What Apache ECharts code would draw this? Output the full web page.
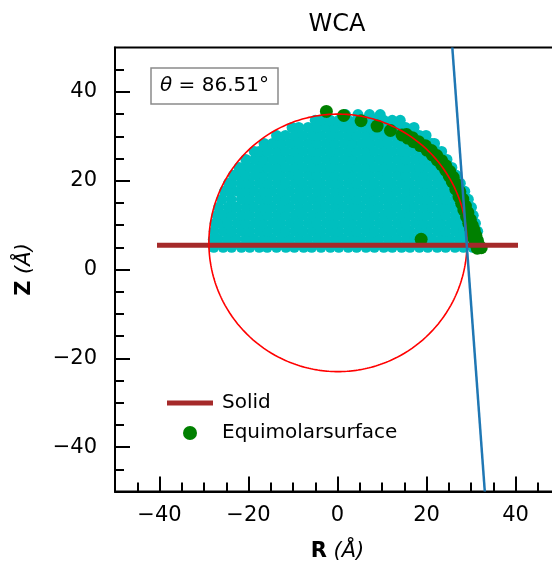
<!DOCTYPE html>
<html>
<head>
<meta charset="utf-8">
<script src="https://cdn.jsdelivr.net/npm/echarts@6/dist/echarts.min.js"></script>
<style>
  html, body { margin: 0; padding: 0; background: #fff; }
  #chart { width: 552px; height: 566px; }
</style>
</head>
<body>
<div id="chart"></div>
<script>
// Axis limits and ticks (Å)
const rLimits = [-50, 50];
const zLimits = [-50, 50];
const majorTicks = [-40, -20, 0, 20, 40];
const minorTicks = [-45, -35, -30, -25, -15, -10, -5, 5, 10, 15, 25, 30, 35, 45];

// Water density cloud: one list of R positions per Z layer
const cloudRowZ = [5.0, 6.8, 8.6, 10.4, 12.2, 14.0, 15.8, 17.6, 19.4, 21.2, 23.0, 24.8, 26.6, 28.4, 30.2, 32.0, 33.6, 34.9];
const cloudRowR = [
  [-27.8,-25.7,-23.8,-21.6,-19.7,-17.6,-15.8,-13.7,-11.6,-9.7,-7.6,-5.8,-3.7,-1.6,0.3,2.4,4.3,6.4,8.3,10.4,12.3,14.4,16.3,18.4,20.3,22.4,24.3,26.4,28.3,30.4,32.2],
  [-27.9,-26.8,-24.7,-22.8,-20.6,-18.7,-16.6,-14.7,-12.6,-10.7,-8.6,-6.7,-4.6,-2.7,-0.6,1.3,3.4,5.3,7.4,9.3,11.4,13.3,15.4,17.3,19.4,21.3,23.4,25.3,27.4,29.3,31.4],
  [-27.7,-25.6,-23.7,-21.6,-19.7,-17.6,-15.7,-13.6,-11.7,-9.6,-7.7,-5.6,-3.7,-1.6,0.3,2.4,4.3,6.4,8.3,10.4,12.3,14.4,16.3,18.4,20.3,22.4,24.3,26.4,28.3,30.2,31.5],
  [-27.5,-26.6,-24.7,-22.6,-20.7,-18.6,-16.7,-14.6,-12.7,-10.6,-8.7,-6.6,-4.7,-2.6,-0.7,1.4,3.3,5.4,7.3,9.4,11.3,13.4,15.3,17.4,19.3,21.4,23.3,25.4,27.3,29.4,31.0],
  [-27.1,-25.6,-23.7,-21.6,-19.7,-17.6,-15.7,-13.6,-11.7,-9.6,-7.7,-5.6,-3.7,-1.6,0.3,2.4,4.3,6.4,8.3,10.4,12.3,14.4,16.3,18.4,20.3,22.4,24.3,26.4,28.3,30.5],
  [-26.7,-24.6,-22.7,-20.6,-18.7,-16.6,-14.7,-12.6,-10.7,-8.6,-6.7,-4.6,-2.7,-0.6,1.3,3.4,5.3,7.4,9.3,11.4,13.3,15.4,17.3,19.4,21.3,23.4,25.3,27.4,29.3,30.1],
  [-26.0,-23.9,-21.6,-19.7,-17.6,-15.7,-13.6,-11.7,-9.6,-7.7,-5.6,-3.7,-1.6,0.3,2.4,4.3,6.4,8.3,10.4,12.3,14.4,16.3,18.4,20.3,22.4,24.3,26.4,28.3,29.4],
  [-25.4,-24.0,-22.3,-20.6,-18.7,-16.6,-14.7,-12.6,-10.7,-8.6,-6.7,-4.6,-2.7,-0.6,1.3,3.4,5.3,7.4,9.3,11.4,13.3,15.4,17.3,19.4,21.3,23.4,25.3,27.4,28.6],
  [-24.5,-23.7,-21.6,-19.7,-17.6,-15.7,-13.6,-11.7,-9.6,-7.7,-5.6,-3.7,-1.6,0.3,2.4,4.3,6.4,8.3,10.4,12.3,14.4,16.3,18.4,20.3,22.4,24.3,26.4,27.6],
  [-23.4,-22.6,-20.7,-18.6,-16.7,-14.6,-12.7,-10.6,-8.7,-6.6,-4.7,-2.6,-0.7,1.4,3.3,5.4,7.3,9.4,11.3,13.4,15.3,17.4,19.3,21.4,23.3,25.4,26.7],
  [-22.1,-21.0,-19.7,-17.6,-15.7,-13.6,-11.7,-9.6,-7.7,-5.6,-3.7,-1.6,0.3,2.4,4.3,6.4,8.3,10.4,12.3,14.4,16.3,18.4,20.3,22.4,24.3,25.7],
  [-20.6,-18.6,-16.7,-14.6,-12.7,-10.6,-8.7,-6.6,-4.7,-2.6,-0.7,1.4,3.3,5.4,7.3,9.4,11.3,13.4,15.3,17.4,19.3,21.4,23.3,24.6],
  [-18.7,-17.6,-15.7,-13.6,-11.7,-9.6,-7.7,-5.6,-3.7,-1.6,0.3,2.4,4.3,6.4,8.3,10.4,12.3,14.4,16.3,18.4,20.3,22.4,23.4],
  [-16.5,-14.6,-12.7,-10.6,-8.7,-6.6,-4.7,-2.6,-0.7,1.4,3.3,5.4,7.3,9.4,11.3,13.4,15.3,17.4,19.3,21.2,21.8],
  [-13.7,-11.7,-9.6,-7.7,-5.6,-3.7,-1.6,0.3,2.4,4.3,6.4,8.3,10.4,12.3,14.4,16.3,18.4,19.9],
  [-10.2,-8.7,-6.6,-4.7,-2.6,-0.7,1.4,3.3,5.4,7.3,9.4,11.3,13.4,15.3,17.2],
  [-5.0,-3.7,-1.6,0.3,2.4,4.3,6.4,8.3,10.4,12.3,14.1],
  [1.8,4.6,7.2,9.6]
];

// Equimolar dividing surface points
const equimolarR = [-2.5, 1.4, 5.3, 8.9, 11.9,
  14.5, 15.8, 17.1, 18.6, 20.1, 21.3, 22.4, 23.4, 24.3, 25.1, 25.8, 26.6, 27.3, 27.9, 28.4, 29.0, 29.5, 29.9, 30.3, 30.7, 31.0, 31.4,
  15.5, 16.8, 18.2, 19.75, 21.1, 22.3, 23.4, 24.35, 25.2, 26.0, 26.75, 27.5, 28.15, 28.75, 29.3, 29.85, 30.3, 30.7, 31.1, 31.45, 31.8,
  32.3, 18.8];
const equimolarZ = [35.6, 34.7, 33.5, 32.3, 31.3,
  30.3, 29.6, 28.8, 27.9, 26.9, 25.8, 24.7, 23.6, 22.4, 21.1, 19.8, 18.1, 16.4, 14.9, 13.4, 11.9, 10.4, 9.3, 8.2, 7.0, 5.9, 4.8,
  30.4, 29.7, 28.8, 27.85, 26.8, 25.65, 24.5, 23.35, 22.1, 20.75, 19.2, 17.5, 15.85, 14.3, 12.8, 11.25, 9.9, 8.8, 7.65, 6.5, 5.35,
  4.9, 6.8];

// Solid surface, fitted circle and tangent at the contact line
const solidR = [-40, 40];
const solidZ = 5.45;
const circleCenter = [0.1, 6.0];
const circleRadius = 29.0;
const tangentR = [25.8, 33.1];
const tangentZ = [50, -50];
const contactAngle = '86.51';

const FONT = 'DejaVu Sans';
const minus = v => String(v).replace('-', '\u2212');

const cloudData = [];
cloudRowZ.forEach((z, i) => cloudRowR[i].forEach(r => cloudData.push([r, z])));
const equimolarData = equimolarR.map((r, i) => [r, equimolarZ[i]]);
const circleData = [];
for (let a = 0; a <= 360; a += 1) {
  const t = a * Math.PI / 180;
  circleData.push([circleCenter[0] + circleRadius * Math.cos(t), circleCenter[1] + circleRadius * Math.sin(t)]);
}

const chart = echarts.init(document.getElementById('chart'), null, { renderer: 'canvas' });

const axisCommon = {
  type: 'value',
  splitLine: { show: false },
};

chart.setOption({
  animation: false,
  backgroundColor: '#fff',
  textStyle: { fontFamily: FONT },
  title: [
    {
      text: 'WCA',
      left: 337, top: 13, textAlign: 'center', padding: 0,
      textStyle: { fontFamily: FONT, fontSize: 24, fontWeight: 'normal', color: '#000' }
    },
    {
      text: '{i|θ} = ' + contactAngle + '°',
      left: 151, top: 68, padding: [7, 9, 7, 9],
      borderColor: '#8a8a8a', borderWidth: 1.5, backgroundColor: '#fff',
      textStyle: {
        fontFamily: FONT, fontSize: 20, fontWeight: 'normal', color: '#000', lineHeight: 22,
        rich: { i: { fontFamily: FONT, fontSize: 20, fontStyle: 'italic', color: '#000', lineHeight: 22 } }
      }
    }
  ],
  legend: {
    orient: 'vertical',
    left: 162, top: 388,
    itemWidth: 46, itemHeight: 14, itemGap: 10,
    selectedMode: false,
    textStyle: { fontFamily: FONT, fontSize: 20, color: '#000', lineHeight: 20, padding: [0, 0, 0, 4] },
    data: [
      { name: 'Solid', icon: 'path://M0,0 L46,0 L46,5 L0,5 Z', itemStyle: { color: '#a52a2a', opacity: 1 } },
      { name: 'Equimolarsurface', icon: 'circle', itemStyle: { color: '#008000', opacity: 1 } }
    ]
  },
  grid: {
    left: 115, top: 47.5, width: 445, height: 444,
    outerBoundsMode: 'none', containLabel: false,
    show: true, borderColor: '#000', borderWidth: 2, backgroundColor: 'transparent'
  },
  xAxis: [
    Object.assign({}, axisCommon, {
      min: rLimits[0], max: rLimits[1], position: 'bottom',
      axisLine: { show: true, onZero: false, lineStyle: { color: '#000', width: 2 } },
      axisTick: { show: true, inside: true, length: 15, customValues: majorTicks, lineStyle: { color: '#000', width: 2 } },
      axisLabel: { show: true, customValues: majorTicks, margin: 14, fontFamily: FONT, fontSize: 21, color: '#000', formatter: minus },
      name: '{b|R} {i|(Å)}',
      nameLocation: 'middle', nameGap: 50,
      nameTextStyle: {
        fontFamily: FONT, fontSize: 21, color: '#000',
        rich: {
          b: { fontFamily: FONT, fontSize: 21, fontWeight: 'bold', color: '#000' },
          i: { fontFamily: FONT, fontSize: 21, fontStyle: 'italic', color: '#000' }
        }
      }
    }),
    Object.assign({}, axisCommon, {
      min: rLimits[0], max: rLimits[1], position: 'bottom', gridIndex: 0,
      axisLine: { show: false, onZero: false },
      axisTick: { show: true, inside: true, length: 9, customValues: minorTicks, lineStyle: { color: '#000', width: 2 } },
      axisLabel: { show: false }
    })
  ],
  yAxis: [
    Object.assign({}, axisCommon, {
      min: zLimits[0], max: zLimits[1], position: 'left',
      axisLine: { show: true, onZero: false, lineStyle: { color: '#000', width: 2 } },
      axisTick: { show: true, inside: true, length: 15, customValues: majorTicks, lineStyle: { color: '#000', width: 2 } },
      axisLabel: { show: true, customValues: majorTicks, margin: 18, fontFamily: FONT, fontSize: 21, color: '#000', formatter: minus },
      name: '{b|Z} {i|(Å)}',
      nameLocation: 'middle', nameGap: 80,
      nameTextStyle: {
        fontFamily: FONT, fontSize: 21, color: '#000',
        rich: {
          b: { fontFamily: FONT, fontSize: 21, fontWeight: 'bold', color: '#000' },
          i: { fontFamily: FONT, fontSize: 21, fontStyle: 'italic', color: '#000' }
        }
      }
    }),
    Object.assign({}, axisCommon, {
      min: zLimits[0], max: zLimits[1], position: 'left', gridIndex: 0,
      axisLine: { show: false, onZero: false },
      axisTick: { show: true, inside: true, length: 9, customValues: minorTicks, lineStyle: { color: '#000', width: 2 } },
      axisLabel: { show: false }
    })
  ],
  series: [
    {
      name: 'Water',
      type: 'scatter',
      symbol: 'circle', symbolSize: 11,
      itemStyle: { color: '#00bfbf', opacity: 1 },
      data: cloudData, z: 1, silent: true
    },
    {
      name: 'Equimolarsurface',
      type: 'scatter',
      symbol: 'circle', symbolSize: 13,
      itemStyle: { color: '#008000', opacity: 1 },
      data: equimolarData, z: 2, silent: true
    },
    {
      name: 'Solid',
      type: 'line',
      showSymbol: false,
      lineStyle: { color: '#a52a2a', width: 5, cap: 'square' },
      itemStyle: { color: '#a52a2a' },
      data: solidR.map(r => [r, solidZ]), z: 3, silent: true
    },
    {
      name: 'Fit',
      type: 'line',
      showSymbol: false, smooth: false,
      lineStyle: { color: '#ff0000', width: 1.6 },
      data: circleData, z: 4, silent: true
    },
    {
      name: 'Tangent',
      type: 'line',
      showSymbol: false,
      lineStyle: { color: '#1f77b4', width: 2.5 },
      data: tangentR.map((r, i) => [r, tangentZ[i]]), z: 5, silent: true
    }
  ]
});
</script>
</body>
</html>
